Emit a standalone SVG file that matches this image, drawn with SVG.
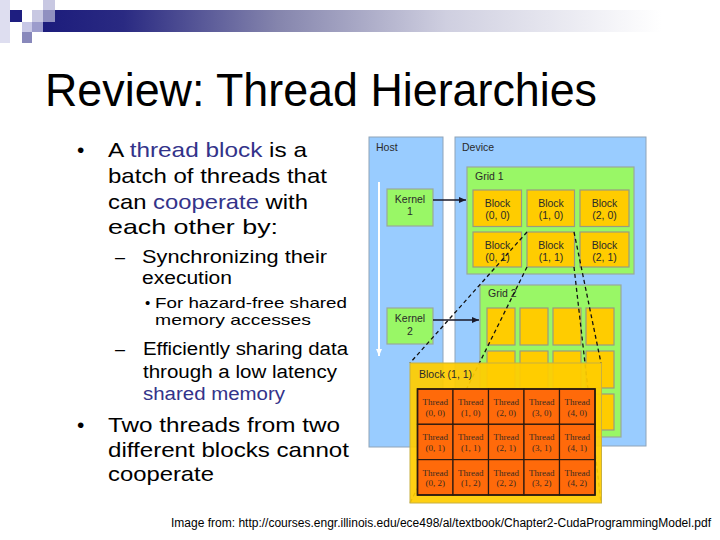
<svg xmlns="http://www.w3.org/2000/svg" width="720" height="540" viewBox="0 0 720 540">
<defs>
<linearGradient id="bar" x1="0" y1="0" x2="1" y2="0">
<stop offset="0" stop-color="#1c1c7c"/>
<stop offset="0.12" stop-color="#2a2a82"/>
<stop offset="0.35" stop-color="#8585ad"/>
<stop offset="0.6" stop-color="#cfcfe0"/>
<stop offset="0.92" stop-color="#ffffff"/>
</linearGradient>
<marker id="ah" markerWidth="8" markerHeight="8" refX="7" refY="4" orient="auto" markerUnits="userSpaceOnUse">
<path d="M0,1 L7,4 L0,7 z" fill="#1a1a2a"/>
</marker>
<marker id="ahw" markerWidth="8" markerHeight="8" refX="4" refY="7" orient="0" markerUnits="userSpaceOnUse">
<path d="M1,0 L4,7 L7,0 z" fill="#ffffff"/>
</marker>
<style>
.body{font-family:"Liberation Sans",Arial,sans-serif;fill:#000}
.hl{fill:#33338a}
.l1{font-size:21px}
.l2{font-size:18px}
.l3{font-size:15px}
.pan{fill:#99ccff;stroke:#8fa4b8;stroke-width:1}
.grid{fill:#99f766;stroke:#9aa89a;stroke-width:1.2}
.blk{fill:#ffcc00;stroke:#9a9a80;stroke-width:1.2}
.lab{font-family:"Liberation Sans",Arial,sans-serif;font-size:10.5px;fill:#2a2a2a}
.ctr{text-anchor:middle}
.th{fill:#ff6a0a;stroke:#2a1a10;stroke-width:1.2}
.tt{font-family:"Liberation Serif","Times New Roman",serif;font-size:9px;fill:#3b2a20;text-anchor:middle}
.dash{fill:none;stroke:#111;stroke-width:1.3;stroke-dasharray:4 3}
</style>
</defs>
<rect width="720" height="540" fill="#ffffff"/>

<g id="decoration">
<rect x="43" y="10" width="672" height="22" fill="url(#bar)"/>
<rect x="0" y="0" width="10" height="43" fill="#dedef0"/>
<rect x="10" y="10" width="12" height="12" fill="#1e1e80"/>
<rect x="32" y="10" width="11" height="12" fill="#c8c8e2"/>
<rect x="43" y="0" width="12" height="10" fill="#c8c8e2"/>
<rect x="43" y="10" width="12" height="12" fill="#9090c0"/>
<rect x="22" y="22" width="10" height="10" fill="#c8c8e6"/>
<rect x="32" y="22" width="11" height="10" fill="#9c9ccc"/>
<rect x="22" y="32" width="10" height="11" fill="#8888bb"/>
</g>

<text id="title" x="45" y="106" font-family="Liberation Sans, Arial, sans-serif" font-size="47" fill="#000" textLength="552" lengthAdjust="spacingAndGlyphs">Review:  Thread Hierarchies</text>

<g id="bullets" class="body">
<text class="l1" x="77" y="157">•</text>
<text class="l1" x="108" y="157" textLength="199" lengthAdjust="spacingAndGlyphs">A <tspan class="hl">thread block</tspan> is a</text>
<text class="l1" x="108" y="183" textLength="219" lengthAdjust="spacingAndGlyphs">batch of threads that</text>
<text class="l1" x="108" y="209" textLength="200" lengthAdjust="spacingAndGlyphs">can <tspan class="hl">cooperate</tspan> with</text>
<text class="l1" x="108" y="234" textLength="170" lengthAdjust="spacingAndGlyphs">each other by:</text>
<text class="l2" x="115" y="263">–</text>
<text class="l2" x="142" y="263" textLength="185" lengthAdjust="spacingAndGlyphs">Synchronizing their</text>
<text class="l2" x="142" y="284" textLength="90" lengthAdjust="spacingAndGlyphs">execution</text>
<text class="l3" x="145" y="308">•</text>
<text class="l3" x="155" y="308" textLength="192" lengthAdjust="spacingAndGlyphs">For hazard-free shared</text>
<text class="l3" x="155" y="325" textLength="156" lengthAdjust="spacingAndGlyphs">memory accesses</text>
<text class="l2" x="115" y="355">–</text>
<text class="l2" x="143" y="355" textLength="205" lengthAdjust="spacingAndGlyphs">Efficiently sharing data</text>
<text class="l2" x="143" y="378" textLength="194" lengthAdjust="spacingAndGlyphs">through a low latency</text>
<text class="l2 hl" x="143" y="400" textLength="142" lengthAdjust="spacingAndGlyphs">shared memory</text>
<text class="l1" x="77" y="432">•</text>
<text class="l1" x="108" y="432" textLength="232" lengthAdjust="spacingAndGlyphs">Two threads from two</text>
<text class="l1" x="108" y="457" textLength="241" lengthAdjust="spacingAndGlyphs">different blocks cannot</text>
<text class="l1" x="108" y="481" textLength="106" lengthAdjust="spacingAndGlyphs">cooperate</text>
</g>

<g id="host">
<rect class="pan" x="369" y="137" width="74" height="310"/>
<text class="lab" x="376" y="151">Host</text>
<line x1="379" y1="182" x2="379" y2="356" stroke="#ffffff" stroke-width="2" marker-end="url(#ahw)"/>
</g>
<g id="device">
<rect class="pan" x="455" y="137" width="191" height="309"/>
<text class="lab" x="462" y="151">Device</text>
</g>
<g id="kernel1">
<rect class="grid" x="387" y="189" width="46" height="37"/>
<text class="lab ctr" x="410" y="203">Kernel</text>
<text class="lab ctr" x="410" y="215">1</text>
</g>
<g id="kernel2">
<rect class="grid" x="387" y="308" width="46" height="36"/>
<text class="lab ctr" x="410" y="322">Kernel</text>
<text class="lab ctr" x="410" y="335">2</text>
</g>
<g id="grid1">
<rect class="grid" x="467" y="167" width="167" height="107"/>
<text class="lab" x="475" y="180">Grid 1</text>
<rect class="blk" x="473" y="190" width="48.5" height="36.5"/>
<rect class="blk" x="527" y="190" width="47.5" height="36.5"/>
<rect class="blk" x="580" y="190" width="49" height="36.5"/>
<rect class="blk" x="473" y="232" width="48.5" height="35"/>
<rect class="blk" x="527" y="232" width="47.5" height="35"/>
<rect class="blk" x="580" y="232" width="49" height="35"/>
<text class="lab ctr" x="497.5" y="207">Block</text><text class="lab ctr" x="497.5" y="219">(0, 0)</text>
<text class="lab ctr" x="551" y="207">Block</text><text class="lab ctr" x="551" y="219">(1, 0)</text>
<text class="lab ctr" x="604.5" y="207">Block</text><text class="lab ctr" x="604.5" y="219">(2, 0)</text>
<text class="lab ctr" x="497.5" y="249">Block</text><text class="lab ctr" x="497.5" y="261">(0, 1)</text>
<text class="lab ctr" x="551" y="249">Block</text><text class="lab ctr" x="551" y="261">(1, 1)</text>
<text class="lab ctr" x="604.5" y="249">Block</text><text class="lab ctr" x="604.5" y="261">(2, 1)</text>
</g>
<g id="grid2">
<rect class="grid" x="480" y="285" width="141" height="152"/>
<text class="lab" x="488" y="297">Grid 2</text>
<rect class="blk" x="487" y="308" width="28" height="37"/>
<rect class="blk" x="520" y="308" width="28" height="37"/>
<rect class="blk" x="553" y="308" width="28" height="37"/>
<rect class="blk" x="586" y="308" width="28" height="37"/>
<rect class="blk" x="487" y="351" width="28" height="37"/>
<rect class="blk" x="520" y="351" width="28" height="37"/>
<rect class="blk" x="553" y="351" width="28" height="37"/>
<rect class="blk" x="586" y="351" width="28" height="37"/>
<rect class="blk" x="487" y="394" width="28" height="36"/>
<rect class="blk" x="520" y="394" width="28" height="36"/>
<rect class="blk" x="553" y="394" width="28" height="36"/>
<rect class="blk" x="586" y="394" width="28" height="36"/>
</g>

<g id="connectors">
<line x1="433" y1="200" x2="466" y2="200" stroke="#1a1a2a" stroke-width="1.3" marker-end="url(#ah)"/>
<line x1="433" y1="320" x2="479" y2="320" stroke="#1a1a2a" stroke-width="1.3" marker-end="url(#ah)"/>
<line class="dash" x1="527" y1="232" x2="410" y2="363"/>
<line class="dash" x1="527" y1="267" x2="410" y2="503"/>
<line class="dash" x1="574" y1="232" x2="601" y2="363"/>
<line class="dash" x1="574" y1="267" x2="601" y2="503"/>
</g>

<g id="block11">
<rect x="410" y="363" width="191.5" height="140" fill="#ffcc00" fill-opacity="0.93" stroke="#c8b040" stroke-width="1"/>
<text class="lab" x="419" y="378">Block (1, 1)</text>
<g id="threads">
<rect class="th" x="417.5" y="389" width="35.5" height="35.3"/>
<rect class="th" x="453" y="389" width="35.5" height="35.3"/>
<rect class="th" x="488.5" y="389" width="35.5" height="35.3"/>
<rect class="th" x="524" y="389" width="35.5" height="35.3"/>
<rect class="th" x="559.5" y="389" width="35.5" height="35.3"/>
<rect class="th" x="417.5" y="424.3" width="35.5" height="35.3"/>
<rect class="th" x="453" y="424.3" width="35.5" height="35.3"/>
<rect class="th" x="488.5" y="424.3" width="35.5" height="35.3"/>
<rect class="th" x="524" y="424.3" width="35.5" height="35.3"/>
<rect class="th" x="559.5" y="424.3" width="35.5" height="35.3"/>
<rect class="th" x="417.5" y="459.6" width="35.5" height="35.4"/>
<rect class="th" x="453" y="459.6" width="35.5" height="35.4"/>
<rect class="th" x="488.5" y="459.6" width="35.5" height="35.4"/>
<rect class="th" x="524" y="459.6" width="35.5" height="35.4"/>
<rect class="th" x="559.5" y="459.6" width="35.5" height="35.4"/>
<rect x="417.5" y="389" width="177.5" height="106" fill="none" stroke="#2a1a10" stroke-width="1.6"/>
<text class="tt" x="435.3" y="405">Thread</text><text class="tt" x="435.3" y="415.5">(0, 0)</text>
<text class="tt" x="470.8" y="405">Thread</text><text class="tt" x="470.8" y="415.5">(1, 0)</text>
<text class="tt" x="506.3" y="405">Thread</text><text class="tt" x="506.3" y="415.5">(2, 0)</text>
<text class="tt" x="541.8" y="405">Thread</text><text class="tt" x="541.8" y="415.5">(3, 0)</text>
<text class="tt" x="577.3" y="405">Thread</text><text class="tt" x="577.3" y="415.5">(4, 0)</text>
<text class="tt" x="435.3" y="440.3">Thread</text><text class="tt" x="435.3" y="450.8">(0, 1)</text>
<text class="tt" x="470.8" y="440.3">Thread</text><text class="tt" x="470.8" y="450.8">(1, 1)</text>
<text class="tt" x="506.3" y="440.3">Thread</text><text class="tt" x="506.3" y="450.8">(2, 1)</text>
<text class="tt" x="541.8" y="440.3">Thread</text><text class="tt" x="541.8" y="450.8">(3, 1)</text>
<text class="tt" x="577.3" y="440.3">Thread</text><text class="tt" x="577.3" y="450.8">(4, 1)</text>
<text class="tt" x="435.3" y="475.6">Thread</text><text class="tt" x="435.3" y="486.1">(0, 2)</text>
<text class="tt" x="470.8" y="475.6">Thread</text><text class="tt" x="470.8" y="486.1">(1, 2)</text>
<text class="tt" x="506.3" y="475.6">Thread</text><text class="tt" x="506.3" y="486.1">(2, 2)</text>
<text class="tt" x="541.8" y="475.6">Thread</text><text class="tt" x="541.8" y="486.1">(3, 2)</text>
<text class="tt" x="577.3" y="475.6">Thread</text><text class="tt" x="577.3" y="486.1">(4, 2)</text>
</g>
</g>

<text id="caption" x="171" y="527" font-family="Liberation Sans, Arial, sans-serif" font-size="12" fill="#000" textLength="540" lengthAdjust="spacingAndGlyphs">Image from:  http://courses.engr.illinois.edu/ece498/al/textbook/Chapter2-CudaProgrammingModel.pdf</text>
</svg>
